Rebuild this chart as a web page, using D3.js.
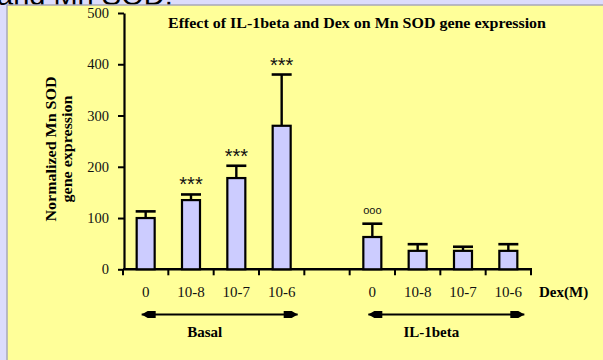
<!DOCTYPE html>
<html>
<head>
<meta charset="utf-8">
<script src="https://cdn.jsdelivr.net/npm/d3@7"></script>
<style>
  html, body { margin: 0; padding: 0; background: #dcdcfc; overflow: hidden; }
  svg { display: block; }
</style>
</head>
<body>
<svg id="chart" width="603" height="360"></svg>
<script>
// Categories: four Dex doses without IL-1beta, a spacer slot, four doses with IL-1beta
const categories = ["b0", "b8", "b7", "b6", "gap", "i0", "i8", "i7", "i6"];
const tickLabels = ["0", "10-8", "10-7", "10-6", "", "0", "10-8", "10-7", "10-6"];
const means      = [100, 135, 178, 280, null, 63, 36, 36, 36];
const upperErr   = [113, 146, 202, 380, null, 89, 49, 44, 49];
const marks      = ["", "***", "***", "***", "", "ooo", "", "", ""];
const yTicks     = [0, 100, 200, 300, 400, 500];
const groups     = [
  { name: "Basal",    from: 0, to: 3 },
  { name: "IL-1beta", from: 5, to: 8 }
];

const svg = d3.select("#chart");
const serif = "'Liberation Serif', 'DejaVu Serif', serif";

// page backdrop: lavender frame and the yellow slide panel
svg.append("rect").attr("x", 0).attr("y", 0).attr("width", 603).attr("height", 360).attr("fill", "#dcdcfc");
svg.append("text")
  .attr("x", -3).attr("y", 5)
  .attr("font-family", "'Liberation Sans', Arial, sans-serif")
  .attr("font-size", 29).attr("fill", "#000")
  .text("and Mn SOD.");
svg.append("rect").attr("x", 7).attr("y", 5).attr("width", 600).attr("height", 360)
  .attr("fill", "#ffff99").attr("stroke", "#a8a8b8").attr("stroke-width", 1.5);

const x = d3.scaleBand().domain(categories).range([123, 531]).paddingInner(0.58).paddingOuter(0.29);
const y = d3.scaleLinear().domain([0, 500]).range([269.3, 13]);
const step = x.step();
const cx = k => x(k) + x.bandwidth() / 2;

// title
svg.append("text")
  .attr("x", 357).attr("y", 28).attr("text-anchor", "middle")
  .attr("font-family", serif).attr("font-weight", "bold").attr("font-size", 14)
  .attr("textLength", 378).attr("lengthAdjust", "spacingAndGlyphs")
  .text("Effect of IL-1beta and Dex on Mn SOD gene expression");

// y axis
const yAxis = svg.append("g").attr("transform", "translate(124,0)")
  .call(d3.axisLeft(y).tickValues(yTicks).tickSize(6).tickSizeOuter(0).tickPadding(9));
yAxis.select(".domain").attr("stroke", "#000").attr("stroke-width", 2.2);
yAxis.selectAll(".tick line").attr("stroke", "#000").attr("stroke-width", 2);
yAxis.selectAll(".tick text").attr("font-family", serif).attr("font-size", 14.5).attr("fill", "#111");

// y axis title (two lines)
const yTitle = svg.append("g").attr("transform", "translate(0,149) rotate(-90)")
  .attr("font-family", serif).attr("font-weight", "bold").attr("font-size", 14).attr("text-anchor", "middle");
yTitle.append("text").attr("x", 0).attr("y", 56).attr("textLength", 145).attr("lengthAdjust", "spacingAndGlyphs").text("Normalized Mn SOD");
yTitle.append("text").attr("x", 0).attr("y", 72).attr("textLength", 107).attr("lengthAdjust", "spacingAndGlyphs").text("gene expression");

// x axis with ticks at slot boundaries
const bounds = categories.map(k => cx(k) + step / 2);
svg.append("line").attr("x1", 123).attr("x2", bounds[bounds.length - 1] + 1)
  .attr("y1", y(0)).attr("y2", y(0)).attr("stroke", "#000").attr("stroke-width", 2.4);
svg.append("g").selectAll("line").data([123].concat(bounds)).join("line")
  .attr("x1", d => d).attr("x2", d => d)
  .attr("y1", y(0)).attr("y2", y(0) + 6)
  .attr("stroke", "#000").attr("stroke-width", 2);

svg.append("g").selectAll("text").data(categories).join("text")
  .attr("x", d => cx(d)).attr("y", 297).attr("text-anchor", "middle")
  .attr("font-family", serif).attr("font-size", 15).attr("fill", "#111")
  .text((d, i) => tickLabels[i]);

svg.append("text").attr("x", 539).attr("y", 297)
  .attr("font-family", serif).attr("font-weight", "bold").attr("font-size", 15)
  .text("Dex(M)");

// bars with upper error bars
const data = categories.map((k, i) => ({ k, v: means[i], e: upperErr[i], m: marks[i] })).filter(d => d.v != null);
const bw = 18;

svg.append("g").selectAll("line").data(data).join("line")
  .attr("x1", d => cx(d.k)).attr("x2", d => cx(d.k))
  .attr("y1", d => y(d.v)).attr("y2", d => y(d.e))
  .attr("stroke", "#000").attr("stroke-width", 2.4);
svg.append("g").selectAll("line").data(data).join("line")
  .attr("x1", d => cx(d.k) - 10).attr("x2", d => cx(d.k) + 10)
  .attr("y1", d => y(d.e)).attr("y2", d => y(d.e))
  .attr("stroke", "#000").attr("stroke-width", 2.6);

svg.append("g").selectAll("rect").data(data).join("rect")
  .attr("x", d => cx(d.k) - bw / 2).attr("width", bw)
  .attr("y", d => y(d.v)).attr("height", d => y(0) - y(d.v))
  .attr("fill", "#ccccff").attr("stroke", "#000").attr("stroke-width", 2.2);

// significance marks
svg.append("g").selectAll("text").data(data.filter(d => d.m)).join("text")
  .attr("x", d => cx(d.k)).attr("y", d => y(d.e) - (d.m === "ooo" ? 10 : 3))
  .attr("text-anchor", "middle")
  .attr("font-family", "'Liberation Sans', Arial, sans-serif")
  .attr("font-size", d => d.m === "ooo" ? 11 : 20).attr("fill", "#111")
  .text(d => d.m);

// group brackets: double-headed arrows with names below
const arrowHead = (tip, dir, yy) => {
  const s = dir;
  return `M${tip},${yy} L${tip + s * 6},${yy - 3.5} L${tip + s * 14},${yy - 3.5} L${tip + s * 14},${yy + 3.5} L${tip + s * 6},${yy + 3.5} Z`;
};
groups.forEach(g => {
  const x0 = cx(categories[g.from]) - 4;
  const x1 = cx(categories[g.to]) + 16;
  const yy = 314.5;
  svg.append("line").attr("x1", x0).attr("x2", x1).attr("y1", yy).attr("y2", yy)
    .attr("stroke", "#000").attr("stroke-width", 2.2);
  svg.append("path").attr("d", arrowHead(x0, 1, yy)).attr("fill", "#000");
  svg.append("path").attr("d", arrowHead(x1, -1, yy)).attr("fill", "#000");
  svg.append("text").attr("x", (x0 + x1) / 2 - 15).attr("y", 337).attr("text-anchor", "middle")
    .attr("font-family", serif).attr("font-weight", "bold").attr("font-size", 15)
    .text(g.name);
});
</script>
</body>
</html>
